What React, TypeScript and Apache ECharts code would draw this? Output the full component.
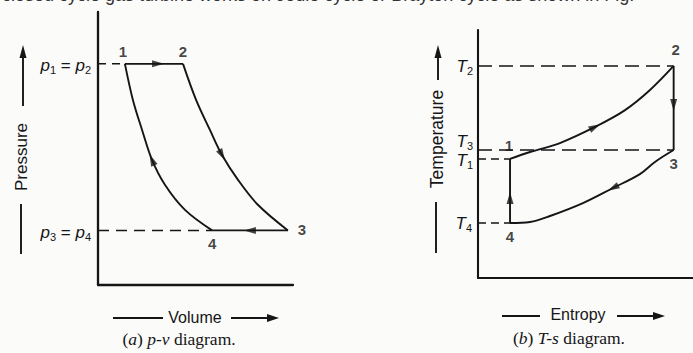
import React, { useEffect, useRef } from "react";
import * as echarts from "echarts";

// ---------- p-v diagram (volume, pressure in relative units 0..100) ----------
const pvLevelHigh = 81; // p1 = p2
const pvLevelLow = 20; // p3 = p4
const pvHeatAddition = [[13.8, 81], [43.6, 81]]; // 1 -> 2
const pvExpansion = [[43.6, 81], [50.3, 67.8], [57.4, 56.8], [63.6, 47.6], [71.8, 38.5], [82.1, 29.3], [97.4, 20]]; // 2 -> 3
const pvHeatRejection = [[97.4, 20], [58.5, 20]]; // 3 -> 4
const pvCompression = [[13.8, 81], [17.9, 67.8], [22.6, 56.8], [27.7, 45.8], [34.4, 36.6], [44.6, 27.5], [58.5, 20]]; // 1 .. 4
const pvStateNames = ["1", "2", "3", "4"];
const pvStateValues = [[13.8, 81], [43.6, 81], [97.4, 20], [58.5, 20]];
// arrow positions [v, p, direction in degrees]
const pvArrows = [[30.8, 81, -90], [77.9, 20, 90], [27.7, 45.8, 23], [63.6, 47.6, 209]];

// ---------- T-s diagram (entropy, temperature in relative units 0..100) ----------
const tsT2 = 85.5;
const tsT3 = 51.6;
const tsT1 = 48;
const tsT4 = 22.2;
const tsHeating = [[14.9, 48], [24.2, 50.8], [38.1, 54.4], [54.4, 60.9], [68.4, 67.7], [80, 75.8], [91, 85.5]]; // 1 -> 2
const tsExpansion = [[91, 85.5], [91, 51.6]]; // 2 -> 3
const tsCooling = [[91, 51.6], [82.3, 46.8], [75.3, 41.9], [62.8, 36.3], [48.8, 30.2], [33.5, 25], [24.2, 22.6], [14.9, 22.2]]; // 3 -> 4
const tsCompression = [[14.9, 22.2], [14.9, 48]]; // 4 -> 1
const tsStateNames = ["1", "2", "3", "4"];
const tsStateValues = [[14.9, 48], [91, 85.5], [91, 51.6], [14.9, 22.2]];
const tsArrows = [[54.4, 60.9, -63], [91, 69.8, 180], [62.8, 36.3, 117], [14.9, 32.3, 0]];

const INK = "#151517";
const SANS = "'Liberation Sans', Arial, Helvetica, sans-serif";
const SERIF = "'Liberation Serif', 'Times New Roman', serif";

function axisPair(grid: number, width: number) {
  return {
    gridIndex: grid,
    type: "value" as const,
    min: 0,
    max: 100,
    axisTick: { show: false },
    axisLabel: { show: false },
    splitLine: { show: false },
    axisLine: { show: true, onZero: false, lineStyle: { color: INK, width } },
  };
}

function solid(name: string, idx: number, data: number[][], smooth = false) {
  return {
    name,
    type: "line",
    xAxisIndex: idx,
    yAxisIndex: idx,
    data,
    smooth: smooth ? 0.35 : false,
    symbol: "none",
    lineStyle: { color: INK, width: 1.9 },
    z: 3,
  };
}

function dashed(name: string, idx: number, data: number[][], dash: number[]) {
  return {
    name,
    type: "line",
    xAxisIndex: idx,
    yAxisIndex: idx,
    data,
    symbol: "none",
    lineStyle: { color: INK, width: 1.5, type: dash },
    z: 2,
  };
}

function arrows(idx: number, list: number[][]) {
  return {
    type: "scatter",
    xAxisIndex: idx,
    yAxisIndex: idx,
    symbol: "triangle",
    symbolSize: [7, 12],
    itemStyle: { color: INK },
    z: 5,
    data: list.map((a) => ({ value: [a[0], a[1]], symbolRotate: a[2] })),
  };
}

function states(idx: number, names: string[], values: number[][], offsets: number[][]) {
  return {
    type: "scatter",
    xAxisIndex: idx,
    yAxisIndex: idx,
    symbolSize: 0,
    z: 6,
    data: names.map((n, i) => ({
      name: n,
      value: values[i],
      label: { offset: offsets[i] },
    })),
    label: {
      show: true,
      position: "inside",
      formatter: "{b}",
      color: INK,
      fontSize: 15,
      fontWeight: "bold",
      fontFamily: SANS,
      textBorderWidth: 0,
    },
  };
}

const subRich = {
  i: { fontStyle: "italic", fontSize: 17, lineHeight: 20, fontFamily: SANS, fill: INK, color: INK },
  n: { fontSize: 17, lineHeight: 20, fontFamily: SANS, fill: INK, color: INK },
  s: { fontSize: 11, lineHeight: 12, verticalAlign: "bottom", fontFamily: SANS, fill: INK, color: INK },
};
const capRich = {
  i: { fontStyle: "italic", fontSize: 17.5, fontFamily: SERIF, fill: INK, color: INK },
  n: { fontSize: 17.5, fontFamily: SERIF, fill: INK, color: INK },
};

function txt(x: number, y: number, text: string, rich: any, align = "right", rotation = 0) {
  return {
    type: "text",
    x,
    y,
    rotation,
    style: { text, rich, align, verticalAlign: "middle", fill: INK },
  };
}
function plain(x: number, y: number, text: string, rotation = 0, size = 16) {
  return {
    type: "text",
    x,
    y,
    rotation,
    style: { text, font: `${size}px ${SANS}`, align: "center", verticalAlign: "middle", fill: INK },
  };
}
function seg(x1: number, y1: number, x2: number, y2: number) {
  return { type: "line", shape: { x1, y1, x2, y2 }, style: { stroke: INK, lineWidth: 1.9 } };
}
function head(points: number[][]) {
  return { type: "polygon", shape: { points }, style: { fill: INK } };
}

export default function App() {
  const ref = useRef<HTMLDivElement>(null);
  useEffect(() => {
    document.body.style.margin = "0";
    const chart = echarts.init(ref.current!, null, { renderer: "svg" });
    const option: any = {
      animation: false,
      backgroundColor: "#fbfbfa",
      grid: [
        { left: 98, top: 12, width: 195, height: 273 },
        { left: 478, top: 30, width: 215, height: 248 },
      ],
      xAxis: [{ ...axisPair(0, 2.3), position: "bottom" }, { ...axisPair(1, 2.1), position: "bottom" }],
      yAxis: [{ ...axisPair(0, 2.3), position: "left" }, { ...axisPair(1, 2.1), position: "left" }],
      series: [
        dashed("p1=p2", 0, [[0, pvLevelHigh], [pvHeatAddition[0][0], pvLevelHigh]], [8, 6]),
        dashed("p3=p4", 0, [[0, pvLevelLow], [pvHeatRejection[1][0], pvLevelLow]], [11, 7]),
        solid("1-2", 0, pvHeatAddition),
        solid("2-3", 0, pvExpansion, true),
        solid("3-4", 0, pvHeatRejection),
        solid("4-1", 0, pvCompression, true),
        arrows(0, pvArrows),
        states(0, pvStateNames, pvStateValues, [[-2, -12], [0, -12], [14, -1], [0, 13]]),

        dashed("T2", 1, [[0, tsT2], [tsExpansion[0][0], tsT2]], [14, 7]),
        dashed("T3", 1, [[0, tsT3], [tsExpansion[1][0], tsT3]], [14, 7]),
        dashed("T1", 1, [[0, tsT1], [tsCompression[1][0], tsT1]], [8, 5]),
        dashed("T4", 1, [[0, tsT4], [tsCompression[0][0], tsT4]], [8, 5]),
        solid("1-2s", 1, tsHeating, true),
        solid("2-3s", 1, tsExpansion),
        solid("3-4s", 1, tsCooling, true),
        solid("4-1s", 1, tsCompression),
        arrows(1, tsArrows),
        states(1, tsStateNames, tsStateValues, [[-1, -13], [2, -16], [0, 13], [0, 14]]),
      ],
      graphic: [
        {
          type: "text",
          x: 2,
          y: -5,
          style: {
            text: "closed cycle gas turbine works on Joule cycle or Brayton cycle as shown in Fig.",
            font: `18px ${SANS}`,
            fill: "#333",
            verticalAlign: "middle",
          },
        },
        // left axis annotations
        txt(91, 65, "{i|p}{s|1}{n| = }{i|p}{s|2}", subRich),
        txt(91, 232, "{i|p}{s|3}{n| = }{i|p}{s|4}", subRich),
        plain(21, 157, "Pressure", Math.PI / 2, 17),
        seg(23, 106, 23, 55),
        head([[23, 45], [19.5, 58], [26.5, 58]]),
        seg(21, 204, 21, 254),
        plain(195, 317, "Volume"),
        seg(113, 318, 163, 318),
        seg(231, 318, 270, 318),
        head([[279, 318], [267, 314], [267, 322]]),
        txt(179, 339, "{n|(}{i|a}{n|) }{i|p-v}{n| diagram.}", capRich, "center"),
        // right axis annotations
        txt(473, 66, "{i|T}{s|2}", subRich),
        txt(473, 141, "{i|T}{s|3}", subRich),
        txt(473, 160, "{i|T}{s|1}", subRich),
        txt(472, 223, "{i|T}{s|4}", subRich),
        plain(437, 139, "Temperature", Math.PI / 2, 17.5),
        seg(438, 80, 438, 56),
        head([[438, 45], [434.5, 58], [441.5, 58]]),
        seg(436, 202, 436, 253),
        plain(578, 314, "Entropy"),
        seg(502, 316, 540, 316),
        seg(617, 316, 656, 316),
        head([[665, 316], [653, 312], [653, 320]]),
        txt(569, 338, "{n|(}{i|b}{n|) }{i|T-s}{n| diagram.}", capRich, "center"),
      ],
    };
    chart.setOption(option);
    return () => chart.dispose();
  }, []);
  return (
    <div
      ref={ref}
      style={{ position: "fixed", left: 0, top: 0, width: 693, height: 353 }}
    />
  );
}
